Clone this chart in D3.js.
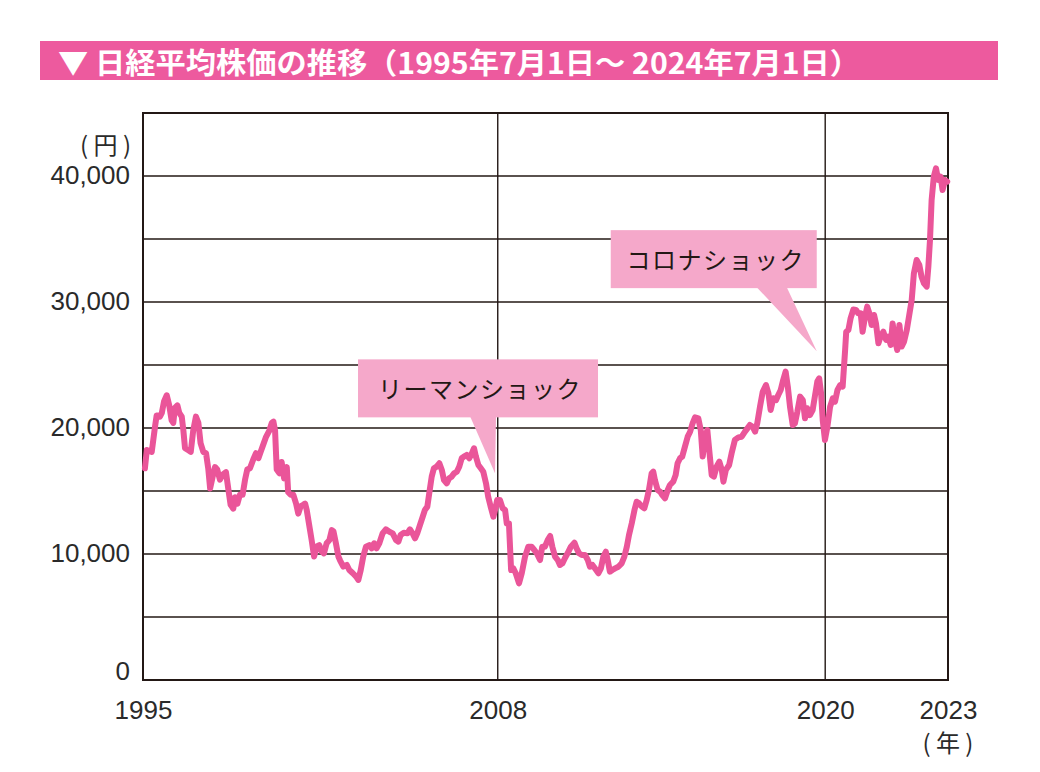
<!DOCTYPE html>
<html>
<head>
<meta charset="utf-8">
<script src="https://cdn.jsdelivr.net/npm/d3@7"></script>
<style>
  html, body { margin: 0; padding: 0; background: #ffffff; }
  svg { display: block; }
</style>
</head>
<body>
<svg id="chart" width="1040" height="772"></svg>
<script>
// ---------- data ----------
const titleText = "▼ 日経平均株価の推移（1995年7月1日～ 2024年7月1日）";
const yUnitLabel = "( 円 )";
const xUnitLabel = "( 年 )";

const yTickValues = [0, 10000, 20000, 30000, 40000];
const yGridValues = [5000, 10000, 15000, 20000, 25000, 30000, 35000, 40000, 45000];
const xTickYears  = [1995, 2008, 2020, 2024.5];
const xTickLabels = ["1995", "2008", "2020", "2023"];
const xGridYears  = [2008, 2020];

const years = [
  1995.07,1995.14,1995.32,1995.44,1995.50,1995.62,1995.69,1995.77,1995.87,1995.96,
  1996.05,1996.11,1996.17,1996.26,1996.33,1996.42,1996.48,1996.54,1996.66,1996.75,
  1996.84,1996.94,1997.03,1997.11,1997.21,1997.31,1997.39,1997.46,1997.55,1997.64,
  1997.72,1997.82,1997.92,1998.04,1998.13,1998.21,1998.31,1998.37,1998.46,1998.55,
  1998.65,1998.74,1998.82,1998.92,1999.04,1999.14,1999.23,1999.31,1999.41,1999.51,
  1999.63,1999.72,1999.78,1999.84,1999.90,2000.00,2000.08,2000.17,2000.27,2000.32,
  2000.41,2000.51,2000.61,2000.69,2000.78,2000.87,2000.94,2001.00,2001.12,2001.18,
  2001.27,2001.37,2001.46,2001.55,2001.63,2001.73,2001.83,2001.92,2001.98,2002.07,
  2002.16,2002.22,2002.34,2002.47,2002.56,2002.69,2002.81,2002.89,2002.98,2003.07,
  2003.17,2003.29,2003.38,2003.47,2003.56,2003.66,2003.78,2003.90,2004.03,2004.15,
  2004.27,2004.36,2004.44,2004.56,2004.69,2004.78,2004.88,2004.97,2005.05,2005.15,
  2005.25,2005.33,2005.42,2005.49,2005.58,2005.66,2005.76,2005.86,2005.95,2006.03,
  2006.13,2006.22,2006.31,2006.40,2006.50,2006.59,2006.68,2006.76,2006.86,2006.96,
  2007.05,2007.13,2007.20,2007.29,2007.38,2007.47,2007.57,2007.65,2007.74,2007.84,
  2007.90,2007.98,2008.08,2008.18,2008.27,2008.33,2008.41,2008.49,2008.57,2008.66,
  2008.78,2008.88,2009.00,2009.12,2009.24,2009.34,2009.43,2009.55,2009.63,2009.73,
  2009.83,2009.92,2010.00,2010.10,2010.20,2010.28,2010.37,2010.46,2010.56,2010.68,
  2010.81,2010.89,2010.98,2011.08,2011.20,2011.30,2011.38,2011.47,2011.56,2011.69,
  2011.78,2011.87,2011.96,2012.03,2012.11,2012.20,2012.30,2012.42,2012.54,2012.64,
  2012.73,2012.81,2012.91,2013.01,2013.09,2013.18,2013.28,2013.37,2013.46,2013.54,
  2013.64,2013.70,2013.76,2013.86,2013.95,2014.03,2014.13,2014.23,2014.31,2014.43,
  2014.52,2014.59,2014.68,2014.76,2014.86,2014.96,2015.05,2015.14,2015.23,2015.35,
  2015.44,2015.51,2015.59,2015.68,2015.75,2015.84,2015.92,2016.02,2016.12,2016.21,
  2016.27,2016.36,2016.48,2016.57,2016.69,2016.82,2016.94,2017.06,2017.15,2017.24,
  2017.34,2017.43,2017.51,2017.61,2017.71,2017.83,2017.92,2018.00,2018.10,2018.20,
  2018.28,2018.37,2018.46,2018.55,2018.63,2018.71,2018.81,2018.89,2018.98,2019.08,
  2019.18,2019.26,2019.34,2019.44,2019.54,2019.62,2019.71,2019.78,2019.85,2019.91,
  2019.99,2020.08,2020.18,2020.28,2020.36,2020.45,2020.55,2020.64,2020.73,2020.77,
  2020.85,2020.93,2021.03,2021.13,2021.21,2021.30,2021.37,2021.46,2021.54,2021.62,
  2021.70,2021.79,2021.86,2021.95,2022.03,2022.13,2022.23,2022.31,2022.40,2022.47,
  2022.56,2022.64,2022.72,2022.80,2022.89,2022.99,2023.08,2023.17,2023.25,2023.35,
  2023.45,2023.53,2023.62,2023.72,2023.78,2023.84,2023.90,2023.98,2024.06,2024.14,
  2024.23,2024.30,2024.39,2024.47
];
const values = [
  16800,18250,18100,20100,21000,20900,21200,22100,22600,21800,
  20600,20400,21600,21800,21200,20900,19800,18400,18250,18100,
  19800,20900,20400,18800,18100,18000,16800,15200,16100,16900,
  16700,15900,16300,16500,15100,13900,13600,14500,14000,14700,
  14700,15900,16700,16800,17500,18000,17600,18100,18700,19300,
  19800,20400,20500,19800,16700,16400,17300,16000,16900,14900,
  14700,14700,14000,13200,13800,13900,14000,13500,11900,11100,
  9800,10600,10700,10200,10050,10850,11100,11900,11800,10850,
  9800,9500,9000,9130,8730,8470,8200,7940,8730,9790,
  10580,10700,10450,10850,10450,10850,11640,11960,11770,11640,
  11110,10980,11510,11690,11640,11960,11640,11245,11640,12300,
  12960,13490,13760,14820,16140,16800,16930,17200,16670,15870,
  15610,16010,16140,16400,16530,16930,17600,17730,17860,17600,
  17990,18390,17730,17065,16800,16530,15610,14550,13760,12960,
  13490,14290,14290,13625,13490,12430,12430,8730,8860,8470,
  7675,8470,9790,10580,10580,10320,10055,9520,10580,10580,
  11110,11430,10580,9790,9520,9130,9260,9660,10055,10580,
  10900,10450,10055,9920,9920,9520,8990,9130,8860,8470,
  8860,9790,10180,9520,8600,8730,8860,8990,9260,9790,
  10580,11510,12430,13490,14150,14020,13760,13625,14290,15080,
  16400,16530,15870,15080,14945,14680,14420,15080,15475,15740,
  16270,17200,17600,17730,18520,19310,19700,20370,20850,20770,
  19840,17730,19050,19840,18255,16270,16140,16930,17330,16670,
  15740,16670,17065,17990,19050,19260,19310,19710,19970,20240,
  20100,19710,20370,21690,22880,23410,22750,21430,22360,22220,
  22620,23020,23810,24470,23280,21690,20240,20370,21300,22490,
  22220,20770,21565,21030,21430,22490,23680,23940,22750,20600,
  19050,20100,21690,22360,22090,23020,23410,23280,26190,27640,
  27780,28700,29400,29370,29100,29100,27640,28830,29630,29100,
  28170,28970,28300,26720,27250,27640,26990,27250,26590,28300,
  26990,26190,28170,26460,26860,27780,28970,30160,32280,33330,
  32940,32010,31480,31220,32800,34920,38100,39950,40610,39680,
  39950,38890,39680,39550
];

const callouts = [
  { label: "リーマンショック", year: 2007.90, value: 16400 },
  { label: "コロナショック",   year: 2019.69, value: 26100 }
];

// ---------- layout ----------
const colors = {
  title: "#ed5a9e",
  line: "#ea5599",
  callout: "#f5a8ca",
  ink: "#231815",
  text: "#2a2a2a"
};
const plot = { left: 143, right: 948, top: 113, bottom: 680 };

const svg = d3.select("#chart");

const x = d3.scaleLinear().domain([1995, 2024.5]).range([plot.left, plot.right]);
const y = d3.scaleLinear().domain([0, 45000]).range([plot.bottom, plot.top]);

// ---------- title bar ----------
svg.append("rect")
  .attr("x", 40).attr("y", 41).attr("width", 958).attr("height", 39)
  .attr("fill", colors.title);
svg.append("text")
  .attr("x", 58).attr("y", 61)
  .attr("dominant-baseline", "central")
  .attr("fill", "#ffffff")
  .attr("font-family", "'Noto Sans CJK JP', 'Noto Sans', sans-serif")
  .attr("font-weight", 700)
  .attr("font-size", 29)
  .attr("textLength", 802)
  .attr("lengthAdjust", "spacingAndGlyphs")
  .text(titleText);

// ---------- grid ----------
const grid = svg.append("g");
grid.selectAll("line.h").data(yGridValues).join("line")
  .attr("class", "h")
  .attr("x1", plot.left).attr("x2", plot.right)
  .attr("y1", d => y(d)).attr("y2", d => y(d))
  .attr("stroke", colors.ink).attr("stroke-width", 1.6);
grid.selectAll("line.v").data(xGridYears).join("line")
  .attr("class", "v")
  .attr("x1", d => x(d)).attr("x2", d => x(d))
  .attr("y1", plot.top).attr("y2", plot.bottom)
  .attr("stroke", colors.ink).attr("stroke-width", 1.4);

// plot frame
svg.append("rect")
  .attr("x", plot.left).attr("y", plot.top)
  .attr("width", plot.right - plot.left).attr("height", plot.bottom - plot.top)
  .attr("fill", "none").attr("stroke", colors.ink).attr("stroke-width", 2);

// ---------- axes ----------
const yAxis = svg.append("g")
  .attr("transform", `translate(${plot.left},0)`)
  .call(d3.axisLeft(y).tickValues(yTickValues).tickSize(0).tickPadding(13)
        .tickFormat(d3.format(",")));
yAxis.select(".domain").remove();
yAxis.selectAll("text")
  .attr("font-family", "'Liberation Sans', Arial, sans-serif")
  .attr("font-size", 26)
  .attr("fill", colors.text)
  .attr("dy", d => d === 0 ? "-0.02em" : "0.3em");

const xAxis = svg.append("g")
  .attr("transform", `translate(0,${plot.bottom})`)
  .call(d3.axisBottom(x).tickValues(xTickYears).tickSize(0).tickPadding(21)
        .tickFormat((d, i) => xTickLabels[i]));
xAxis.select(".domain").remove();
xAxis.selectAll("text")
  .attr("font-family", "'Liberation Sans', Arial, sans-serif")
  .attr("font-size", 26)
  .attr("fill", colors.text);

svg.append("text")
  .attr("x", plot.left - 12).attr("y", 154)
  .attr("text-anchor", "end")
  .attr("font-family", "'Noto Sans CJK JP', sans-serif")
  .attr("font-size", 24)
  .attr("fill", colors.text)
  .text(yUnitLabel);
svg.append("text")
  .attr("x", x(2024.5)).attr("y", 752)
  .attr("text-anchor", "middle")
  .attr("font-family", "'Noto Sans CJK JP', sans-serif")
  .attr("font-size", 24)
  .attr("fill", colors.text)
  .text(xUnitLabel);

// ---------- line ----------
const series = years.map((yr, i) => ({ year: yr, value: values[i] }));
svg.append("path")
  .datum(series)
  .attr("fill", "none")
  .attr("stroke", colors.line)
  .attr("stroke-width", 6)
  .attr("stroke-linejoin", "round")
  .attr("stroke-linecap", "round")
  .attr("d", d3.line().x(d => x(d.year)).y(d => y(d.value)));

// ---------- callouts ----------
const calloutLayout = [
  { rx0: -137, rx1: 103, ry0: -114, ry1: -56, bx0: -25, bx1: 1 },
  { rx0: -206, rx1: 0,   ry0: -121, ry1: -63, bx0: -60, bx1: -30 }
];
callouts.forEach((c, i) => {
  const L = calloutLayout[i];
  const tx = x(c.year), ty = y(c.value);
  const g = svg.append("g");
  g.append("path")
    .attr("d", `M${tx + L.bx0},${ty + L.ry1 - 1} L${tx + L.bx1},${ty + L.ry1 - 1} L${tx},${ty} Z`)
    .attr("fill", colors.callout);
  g.append("rect")
    .attr("x", tx + L.rx0).attr("y", ty + L.ry0)
    .attr("width", L.rx1 - L.rx0).attr("height", L.ry1 - L.ry0)
    .attr("fill", colors.callout);
  g.append("text")
    .attr("x", tx + (L.rx0 + L.rx1) / 2 + 2)
    .attr("y", ty + (L.ry0 + L.ry1) / 2 - 1)
    .attr("text-anchor", "middle")
    .attr("dominant-baseline", "central")
    .attr("font-family", "'Noto Sans CJK JP', sans-serif")
    .attr("font-size", 24)
    .attr("letter-spacing", 1.5)
    .attr("fill", colors.ink)
    .text(c.label);
});
</script>
</body>
</html>
